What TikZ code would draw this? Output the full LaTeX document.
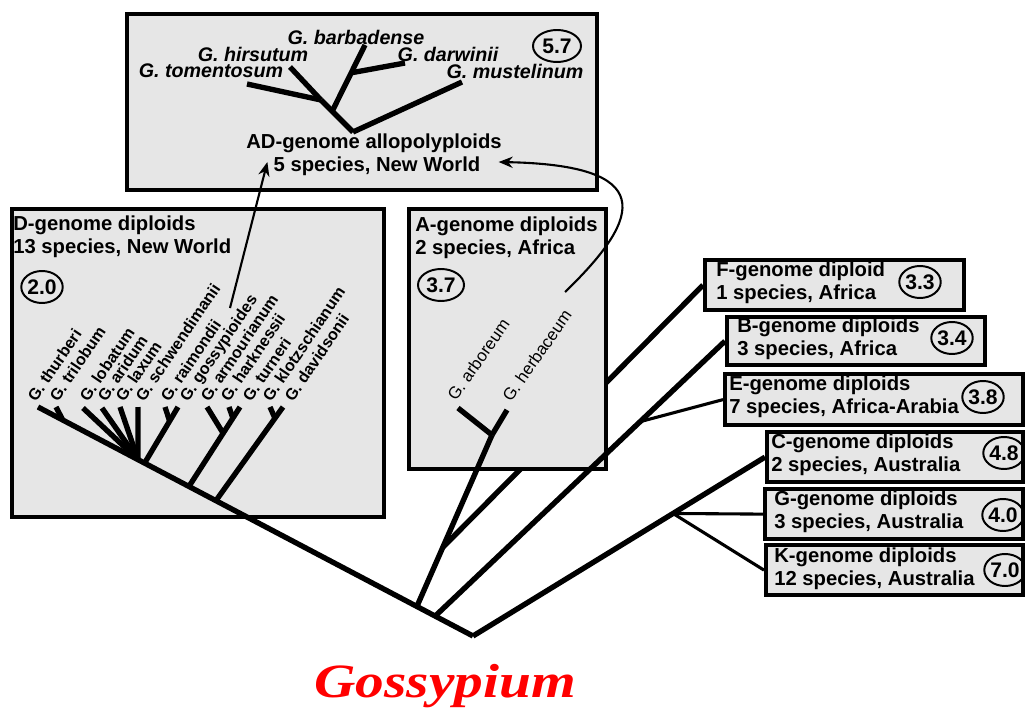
\documentclass[tikz,border=0pt]{standalone}
\usepackage{fontspec}
\setmainfont{Liberation Sans}
\newfontfamily\titlefont{Liberation Serif}
\usetikzlibrary{calc,arrows.meta,shapes.geometric}
\definecolor{boxgray}{RGB}{230,230,230}
\definecolor{titlered}{RGB}{255,0,0}

\tikzset{
  genome/.style={draw, fill=boxgray, line width=3pt, anchor=north west, inner sep=0pt},
  info/.style={font=\fontsize{14.4}{16.2}\selectfont\bfseries, align=left, anchor=west, inner sep=0pt},
  mya/.style={draw, ellipse, line width=1.4pt, font=\fontsize{15}{16}\selectfont\bfseries, minimum width=0.95cm, minimum height=0.8cm, inner sep=0pt},
  dlabel/.style={font=\fontsize{11.5}{14}\selectfont\bfseries, rotate=56, anchor=base west, inner sep=0pt},
  alabel/.style={font=\fontsize{12}{14}\selectfont, rotate=55, anchor=base west, inner sep=0pt},
  adlabel/.style={font=\fontsize{14}{16}\selectfont\bfseries\itshape, inner sep=0pt},
  branch/.style={line width=3.8pt},
  thin branch/.style={line width=2.2pt},
  link/.style={line width=1.5pt, -{Stealth[length=10pt,width=8pt]}},
}

\begin{document}
\begin{tikzpicture}[x=0.025cm, y=-0.025cm]
\useasboundingbox (0,0) rectangle (1025,708);

% right hand genome boxes
\node[genome, minimum width=6.475cm, minimum height=1.25cm] (fbox) at (703,258) {};
\node[info] (ftxt) at (716,283) {F-genome diploid\\1 species, Africa};
\node[mya] (fnum) at (920,282) {3.3};

\node[genome, minimum width=6.45cm, minimum height=1.2cm] (bbox) at (725,315) {};
\node[info] (btxt) at (737,339) {B-genome diploids\\3 species, Africa};
\node[mya] (bnum) at (952,338) {3.4};

\node[genome, minimum width=7.45cm, minimum height=1.275cm] (ebox) at (723,372) {};
\node[info] (etxt) at (729,397) {E-genome diploids\\7 species, Africa-Arabia};
\node[mya] (enum) at (983,397) {3.8};

\node[genome, minimum width=6.4cm, minimum height=1.25cm] (cbox) at (765,430) {};
\node[info] (ctxt) at (771,455) {C-genome diploids\\2 species, Australia};
\node[mya] (cnum) at (1004,453) {4.8};

\node[genome, minimum width=6.45cm, minimum height=1.25cm] (gbox) at (763,487) {};
\node[info] (gtxt) at (774,512) {G-genome diploids\\3 species, Australia};
\node[mya] (gnum) at (1003,515) {4.0};

\node[genome, minimum width=6.425cm, minimum height=1.25cm] (kbox) at (764,543) {};
\node[info] (ktxt) at (774,569) {K-genome diploids\\12 species, Australia};
\node[mya] (knum) at (1005,570) {7.0};

% tree skeleton
\coordinate (root) at (473,636);
\coordinate (dthu) at (38,407);
\coordinate (aroot) at ($(root)!0.129!(dthu)$);
\coordinate (broot) at ($(root)!0.087!(dthu)$);
\coordinate (ajn) at (492,435);
\coordinate (fjn) at ($(aroot)!0.345!(ajn)$);

% F branch runs behind the A box
\draw[branch] (fjn) -- (fbox.west);

% left hand boxes
\node[genome, minimum width=11.75cm, minimum height=4.4cm] (adbox) at (125,12) {};
\node[genome, minimum width=9.3cm, minimum height=7.7cm] (dbox) at (10,207) {};
\node[genome, minimum width=4.925cm, minimum height=6.5cm] (abox) at (407,207) {};

\node[info] (dtxt) at (13,237) {D-genome diploids\\13 species, New World};
\node[mya] (dnum) at (42,287) {2.0};
\node[info] (atxt) at (415,238) {A-genome diploids\\2 species, Africa};
\node[mya, minimum width=1.15cm] (anum) at (441,285) {3.7};
\node[info, anchor=center] (adname) at (374,143) {AD-genome allopolyploids};
\node[info, anchor=center] (adspec) at (377,166) {5 species, New World};
\node[mya, minimum width=1.2cm] (adnum) at (557,46) {5.7};

% main branches
\draw[branch] (root) -- (dthu);
\draw[branch] (root) -- (cbox.west);
\coordinate (cgk) at ($(root)!0.685!(cbox.west)$);
\draw[thin branch] (cgk) -- (gbox.west);
\draw[thin branch] (cgk) -- (kbox.west);
\draw[branch] (broot) -- (bbox.west);
\coordinate (bej) at ($(broot)!0.707!(bbox.west)$);
\draw[thin branch] (bej) -- (ebox.west);
\draw[branch] (aroot) -- (ajn);

% A genome
\coordinate (aarb) at (458,408);
\coordinate (aherb) at (507,410);
\draw[branch] (aarb) -- (ajn);
\draw[branch] (aherb) -- (ajn);
\node[alabel] (arb) at (456,402) {G. arboreum};
\node[alabel] (herb) at (511,403) {G. herbaceum};

% D genome
\node[dlabel] (thu) at (36,403) {G. thurberi};
\node[dlabel] (tri) at (58,403) {G. trilobum};
\node[dlabel] (lob) at (88,403) {G. lobatum};
\node[dlabel] (ari) at (106,403) {G. aridum};
\node[dlabel] (lax) at (124,403) {G. laxum};
\node[dlabel] (sch) at (144,403) {G. schwendimanii};
\node[dlabel] (rai) at (169,403) {G. raimondii};
\node[dlabel] (gos) at (188,403) {G. gossypioides};
\node[dlabel] (arm) at (209,403) {G. armourianum};
\node[dlabel] (har) at (229,403) {G. harknessii};
\node[dlabel] (tur) at (251,403) {G. turneri};
\node[dlabel] (klo) at (271,403) {G. klotzschianum};
\node[dlabel] (dav) at (293,403) {G. davidsonii};

\coordinate (dtri) at (56,407);
\coordinate (dlob) at (83,408);
\coordinate (dari) at (102,408);
\coordinate (dlax) at (120,407);
\coordinate (dsch) at (138,407);
\coordinate (drai) at (165,407);
\coordinate (dgos) at (178,407);
\coordinate (darm) at (207,407);
\coordinate (dhar) at (229,407);
\coordinate (dtur) at (240,407);
\coordinate (dklo) at (270,407);
\coordinate (ddav) at (283,407);

\coordinate (dj1) at ($(root)!0.943!(dthu)$);
\coordinate (dj2) at ($(root)!0.770!(dthu)$);
\coordinate (dj2b) at ($(root)!0.755!(dthu)$);
\coordinate (dj3) at ($(root)!0.653!(dthu)$);
\coordinate (dj4) at ($(root)!0.591!(dthu)$);

\draw[branch] (dtri) -- (dj1);
\draw[branch] (dlob) -- (dj2);
\draw[branch] (dari) -- (dj2);
\draw[branch] (dlax) -- (dj2);
\draw[branch] (dsch) -- (dj2);
\draw[branch] (dgos) -- (dj2b);
\draw[branch] (drai) -- ($(dgos)!0.25!(dj2b)$);
\draw[branch] (dtur) -- (dj3);
\draw[branch] (darm) -- ($(dtur)!0.33!(dj3)$);
\draw[branch] (dhar) -- ($(dtur)!0.14!(dj3)$);
\draw[branch] (ddav) -- (dj4);
\draw[branch] (dklo) -- ($(ddav)!0.12!(dj4)$);

% AD genome
\node[adlabel] (barb) at (356,37) {G. barbadense};
\node[adlabel] (hirs) at (253,54) {G. hirsutum};
\node[adlabel] (darw) at (448,54) {G. darwinii};
\node[adlabel] (tome) at (211,71) {G. tomentosum};
\node[adlabel] (must) at (515,71) {G. mustelinum};

\coordinate (adroot) at (353,132);
\coordinate (adn2) at (321,100);
\coordinate (adn1) at ($(adn2)!0.35!(adroot)$);
\coordinate (adbar) at (365,45);
\coordinate (adj) at ($(adn1)!0.58!(adbar)$);
\draw[branch] (adroot) -- (462,82) coordinate (admus);
\draw[branch] (adroot) -- (adn2);
\draw[branch] (adn2) -- (247,84) coordinate (adtom);
\draw[branch] (adn2) -- (290,67) coordinate (adhir);
\draw[branch] (adn1) -- (adbar);
\draw[branch] (adj) -- (405,63) coordinate (addar);

% hybridisation arrows
\coordinate (dstart) at (230,308);
\coordinate (astart) at (565,292);
\draw[link] (dstart) -- ($(adspec.west)+(-6,-4)$);
\draw[link] (astart) .. controls (645,215) and (655,165) .. ($(adspec.east)+(18,-4)$);

\node[font=\titlefont\fontsize{34}{38}\selectfont\bfseries\itshape, text=titlered, anchor=base, xscale=1.2, inner sep=0pt] (genus) at (445,697) {Gossypium};
\end{tikzpicture}
\end{document}
